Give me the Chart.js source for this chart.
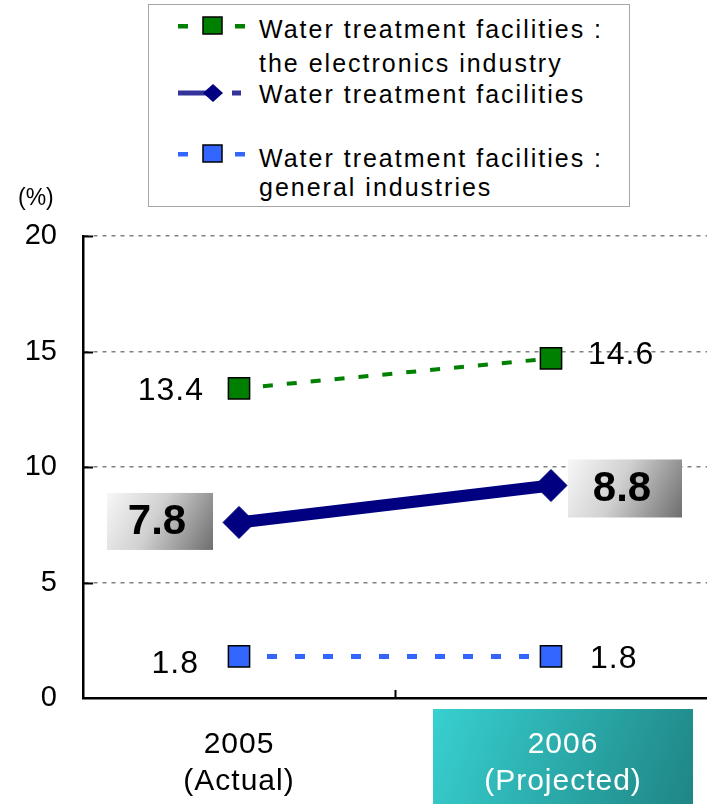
<!DOCTYPE html>
<html>
<head>
<meta charset="utf-8">
<script src="https://cdn.jsdelivr.net/npm/chart.js@4/dist/chart.umd.min.js"></script>
<style>
  html, body { margin:0; padding:0; background:#fff; }
  #wrap { position:relative; width:707px; height:804px; overflow:hidden; font-family:"Liberation Sans", Arial, sans-serif; }
  #c { position:absolute; left:0; top:0; }
  #legend { position:absolute; left:148px; top:4px; width:480px; height:201px; border:1.5px solid #a6a6a6; background:#fff; }
  .lt { position:absolute; left:110px; font-size:25px; line-height:25px; letter-spacing:2px; color:#000; white-space:nowrap; }
  #legsvg { position:absolute; left:0; top:0; }
  #unit { position:absolute; left:18px; top:186px; font-size:23px; line-height:23px; color:#000; }
</style>
</head>
<body>
<div id="wrap">
  <canvas id="c" width="707" height="804"></canvas>
  <div id="legend"></div>
  <svg id="legsvg" width="707" height="210"></svg>
  <div id="unit">(%)</div>
</div>
<script>
// ---- data ----
const categories = [['2005', '(Actual)'], ['2006', '(Projected)']];
const seriesNames = [
  ['Water treatment facilities :', 'the electronics industry'],
  ['Water treatment facilities'],
  ['Water treatment facilities :', 'general industries']
];
const electronicsValues = [13.4, 14.7];
const electronicsLabels = ['13.4', '14.6'];
const overallValues = [7.6, 9.2];
const overallLabels = ['7.8', '8.8'];
const generalValues = [1.8, 1.8];
const generalLabels = ['1.8', '1.8'];
const yTickValues = [0, 5, 10, 15, 20];

const FONT = '"Liberation Sans", Arial, sans-serif';

// ---- styles (kept apart from data) ----
const labelStyles = [
  // electronics
  [{ align: 'right', dx: -35, dy: 3 }, { align: 'left', dx: 37, dy: -3 }],
  // overall (boxed)
  [{ box: true, dx: -79, dy: -1, w: 106, h: 57 }, { box: true, dx: 74, dy: 3, w: 114, h: 58 }],
  // general
  [{ align: 'right', dx: -40, dy: 8 }, { align: 'left', dx: 39, dy: 3 }]
];
const dataLabels = [electronicsLabels, overallLabels, generalLabels];

const deco = {
  id: 'deco',
  afterDraw(chart) {
    const ctx = chart.ctx;
    const xs = chart.scales.x, ys = chart.scales.y;
    const area = chart.chartArea;
    ctx.save();
    // inner y tick marks
    ctx.strokeStyle = '#000';
    ctx.lineWidth = 2;
    ys.ticks.forEach((t, i) => {
      if (t.value === 0) return;
      const py = Math.round(ys.getPixelForTick(i)) + 0.5;
      ctx.beginPath(); ctx.moveTo(area.left, py); ctx.lineTo(area.left + 10, py); ctx.stroke();
    });
    // middle x tick
    const mid = Math.round((xs.getPixelForTick(0) + xs.getPixelForTick(1)) / 2) + 0.5;
    ctx.beginPath(); ctx.moveTo(mid, area.bottom); ctx.lineTo(mid, area.bottom - 8); ctx.stroke();

    // data labels
    chart.data.datasets.forEach((ds, di) => {
      const meta = chart.getDatasetMeta(di);
      meta.data.forEach((pt, j) => {
        const st = labelStyles[di][j];
        const txt = dataLabels[di][j];
        if (st.box) {
          const cx = pt.x + st.dx, cy = pt.y + st.dy;
          const x0 = cx - st.w / 2, y0 = cy - st.h / 2;
          const g = ctx.createLinearGradient(x0, y0, x0 + st.w, y0 + st.h);
          g.addColorStop(0, '#f7f7f7');
          g.addColorStop(0.45, '#d0d0d0');
          g.addColorStop(1, '#6e6e6e');
          ctx.fillStyle = g;
          ctx.fillRect(x0, y0, st.w, st.h);
          ctx.fillStyle = '#000';
          ctx.font = 'bold 42px ' + FONT;
          ctx.textAlign = 'center';
          ctx.textBaseline = 'middle';
          ctx.fillText(txt, cx - 3, cy + 1);
        } else {
          ctx.fillStyle = '#000';
          ctx.font = '32px ' + FONT;
          ctx.letterSpacing = '1px';
          ctx.textAlign = st.align;
          ctx.textBaseline = 'middle';
          ctx.fillText(txt, pt.x + st.dx, pt.y + st.dy);
          ctx.letterSpacing = '0px';
        }
      });
    });

    // category labels under the x axis
    categories.forEach((lines, i) => {
      const px = xs.getPixelForTick(i);
      let cx = px, color = '#000';
      if (i === 1) {
        const bx0 = px - 118, bx1 = px + 142, by0 = area.bottom + 11, by1 = chart.height;
        const g = ctx.createLinearGradient(bx0, by0, bx1, by1);
        g.addColorStop(0, '#38d0d0');
        g.addColorStop(1, '#1f8585');
        ctx.fillStyle = g;
        ctx.fillRect(bx0, by0, bx1 - bx0, by1 - by0);
        cx = px + 12;
        color = '#fff';
      }
      ctx.fillStyle = color;
      ctx.font = '30px ' + FONT;
      ctx.letterSpacing = '1px';
      ctx.textAlign = 'center';
      ctx.textBaseline = 'alphabetic';
      ctx.fillText(lines[0], cx, area.bottom + 55);
      ctx.fillText(lines[1], cx, area.bottom + 92);
      ctx.letterSpacing = '0px';
    });
    ctx.restore();
  }
};

const chart = new Chart(document.getElementById('c'), {
  type: 'line',
  data: {
    labels: categories,
    datasets: [
      {
        label: seriesNames[0].join(' '),
        data: electronicsValues,
        borderColor: '#008000',
        borderWidth: 4,
        borderDash: [10, 14],
        pointStyle: 'rect',
        pointRadius: 15,
        pointHoverRadius: 15,
        pointBackgroundColor: '#008000',
        pointBorderColor: '#000',
        pointBorderWidth: 1.5
      },
      {
        label: seriesNames[1].join(' '),
        data: overallValues,
        borderColor: '#000080',
        borderWidth: 12,
        pointStyle: 'rectRot',
        pointRadius: 16,
        pointHoverRadius: 16,
        pointBackgroundColor: '#000080',
        pointBorderColor: '#000080',
        pointBorderWidth: 1
      },
      {
        label: seriesNames[2].join(' '),
        data: generalValues,
        borderColor: '#3366ff',
        borderWidth: 5,
        borderDash: [10, 18],
        pointStyle: 'rect',
        pointRadius: 15,
        pointHoverRadius: 15,
        pointBackgroundColor: '#3366ff',
        pointBorderColor: '#000',
        pointBorderWidth: 1.5
      }
    ]
  },
  options: {
    responsive: false,
    animation: false,
    events: [],
    layout: { autoPadding: false, padding: { top: 236, left: 0, right: 0, bottom: 0 } },
    plugins: { legend: { display: false }, tooltip: { enabled: false } },
    scales: {
      x: {
        offset: true,
        grid: { display: false, drawTicks: false },
        border: { display: true, color: '#000', width: 2.5 },
        ticks: { display: false },
        afterFit(s) { s.height = 106; }
      },
      y: {
        min: 0, max: 20,
        afterBuildTicks(s) { s.ticks = yTickValues.map(v => ({ value: v })); },
        grid: { color: '#808080', lineWidth: 1.5, drawTicks: false },
        border: { display: true, color: '#000', width: 2.5, dash: [4, 5] },
        ticks: {
          color: '#000',
          padding: 26,
          font: { family: FONT, size: 29 }
        },
        afterFit(s) { s.width = 83; }
      }
    }
  },
  plugins: [deco]
});

// ---- HTML legend built from the datasets ----
(function buildLegend() {
  const leg = document.getElementById('legend');
  const svg = document.getElementById('legsvg');
  const legTop = 4;
  const textTops = [[16, 50], [81], [145, 174]];
  const markerY = [26, 93, 154];
  const ns = 'http://www.w3.org/2000/svg';
  const el = (tag, attrs) => { const e = document.createElementNS(ns, tag); for (const k in attrs) e.setAttribute(k, attrs[k]); svg.appendChild(e); };
  chart.data.datasets.forEach((ds, i) => {
    seriesNames[i].forEach((line, k) => {
      const d = document.createElement('div');
      d.className = 'lt';
      d.style.top = (textTops[i][k] - legTop) + 'px';
      d.textContent = line;
      leg.appendChild(d);
    });
    const y = markerY[i];
    if (ds.pointStyle === 'rect') {
      el('rect', { x: 178, y: y - 2, width: 10, height: 4.5, fill: ds.borderColor });
      el('rect', { x: 235, y: y - 2, width: 10, height: 4.5, fill: ds.borderColor });
      el('rect', { x: 203, y: y - 9, width: 19, height: 17, fill: ds.pointBackgroundColor, stroke: '#000', 'stroke-width': 1.5 });
    } else {
      el('rect', { x: 178, y: y - 2.5, width: 30, height: 5, fill: '#333399' });
      el('rect', { x: 232, y: y - 2.5, width: 9, height: 5, fill: '#333399' });
      el('polygon', { points: `213,${y - 9} 223,${y} 213,${y + 9} 203,${y}`, fill: ds.pointBackgroundColor });
    }
  });
})();
</script>
</body>
</html>
